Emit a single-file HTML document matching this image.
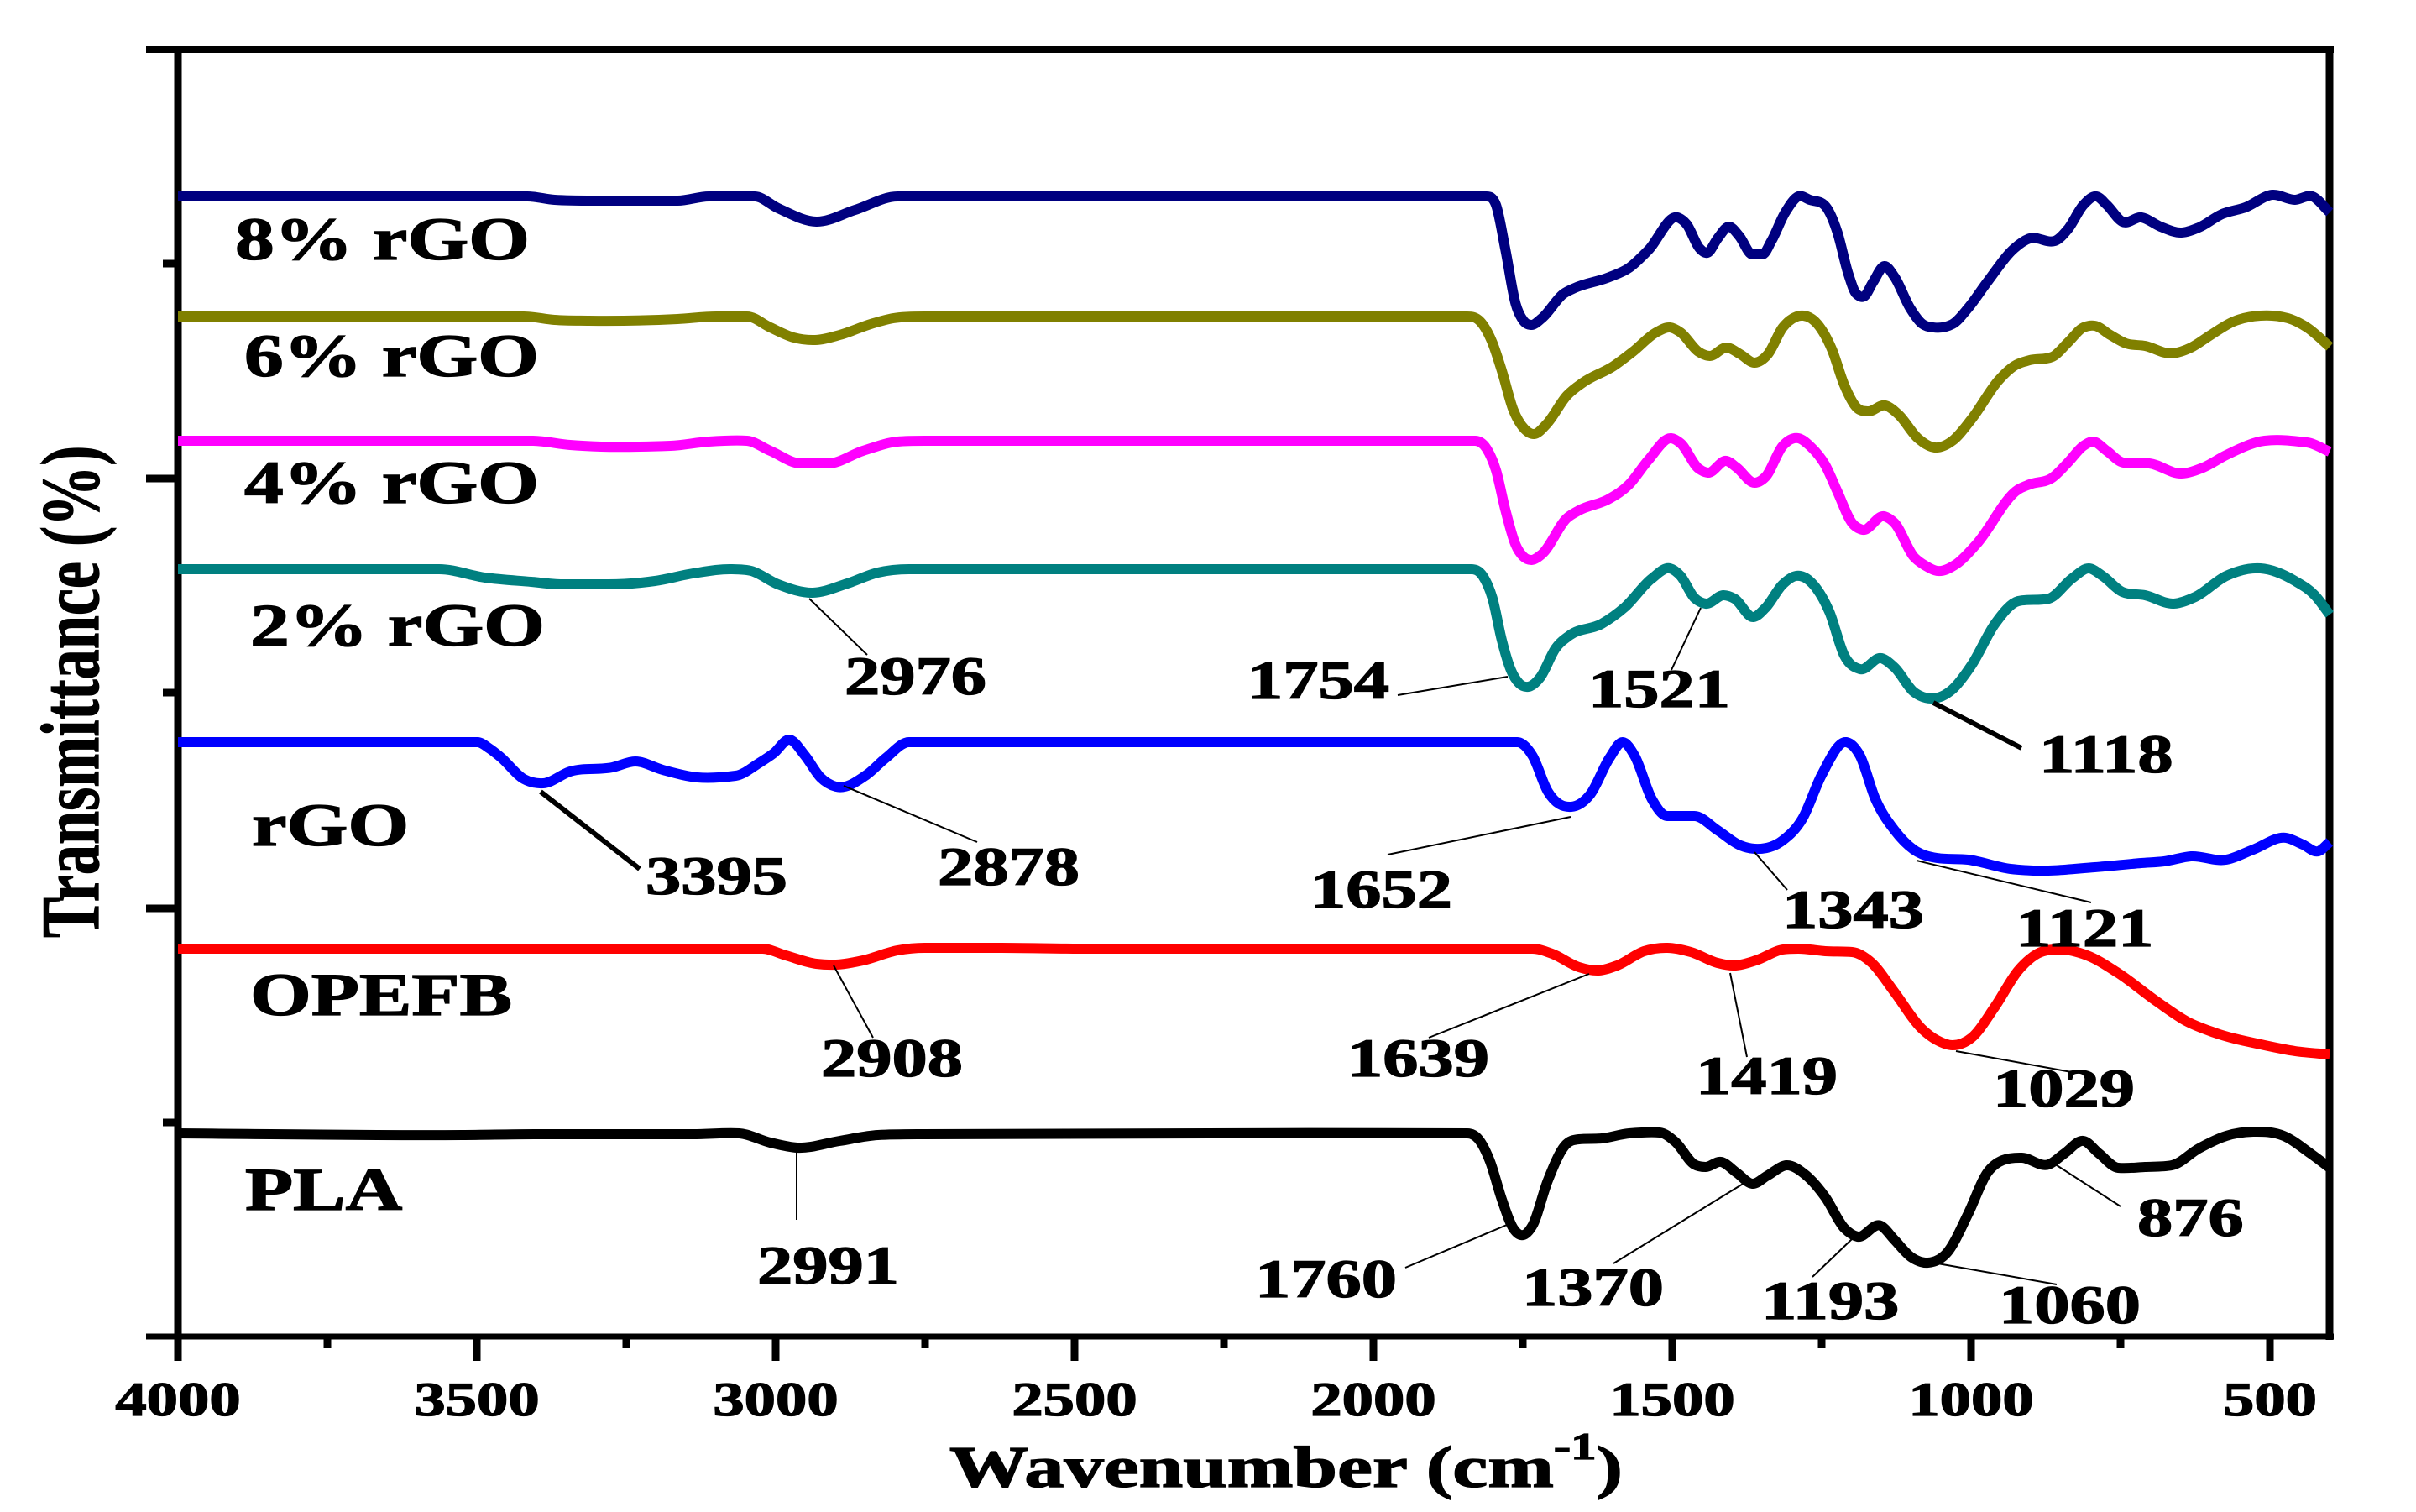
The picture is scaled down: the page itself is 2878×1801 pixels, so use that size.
<!DOCTYPE html>
<html lang="en">
<head>
<meta charset="utf-8">
<title>FTIR spectra of PLA, OPEFB, rGO and composites</title>
<style>
html,body{margin:0;padding:0;background:#fff;}
svg{display:block;}
text{font-family:"Liberation Serif",serif;font-weight:bold;fill:#000;stroke:#000;stroke-width:1.3;}
.sample{font-size:72px;}
.peak{font-size:65px;}
.leader{stroke:#000;stroke-width:2;fill:none;}
.leader-thick{stroke:#000;stroke-width:6;fill:none;}
</style>
</head>
<body>
<svg id="chart" xmlns="http://www.w3.org/2000/svg" width="2878" height="1801" viewBox="0 0 2878 1801">
  <rect x="0" y="0" width="2878" height="1801" fill="#ffffff"/>
  <g id="ticks"></g>
  <g id="frame" stroke="#000" fill="none">
    <line x1="174" y1="59" x2="2780" y2="59" stroke-width="8"/>
    <line x1="174" y1="1592" x2="2780" y2="1592" stroke-width="7"/>
    <line x1="212" y1="55" x2="212" y2="1596" stroke-width="9"/>
    <line x1="2775" y1="55" x2="2775" y2="1596" stroke-width="9"/>
  </g>
  <g id="series"></g>
  <g id="leaders">
    <line class="leader" x1="964" y1="713" x2="1033" y2="780"/>
    <line class="leader" x1="1665" y1="828" x2="1796" y2="806"/>
    <line class="leader" x1="2026" y1="724" x2="1991" y2="798"/>
    <line class="leader-thick" x1="2303" y1="837" x2="2408" y2="891"/>
    <line class="leader-thick" x1="644" y1="943" x2="762" y2="1035"/>
    <line class="leader" x1="1005" y1="936" x2="1164" y2="1003"/>
    <line class="leader" x1="993" y1="1150" x2="1040" y2="1236"/>
    <line class="leader" x1="949" y1="1371" x2="949" y2="1453"/>
    <line class="leader" x1="1871" y1="973" x2="1653" y2="1018"/>
    <line class="leader" x1="2090" y1="1015" x2="2129" y2="1060"/>
    <line class="leader" x1="2283" y1="1025" x2="2491" y2="1075"/>
    <line class="leader" x1="1893" y1="1160" x2="1702" y2="1236"/>
    <line class="leader" x1="2061" y1="1159" x2="2081" y2="1259"/>
    <line class="leader" x1="2330" y1="1252" x2="2473" y2="1278"/>
    <line class="leader" x1="1795" y1="1459" x2="1674" y2="1510"/>
    <line class="leader" x1="2078" y1="1409" x2="1922" y2="1505"/>
    <line class="leader" x1="2207" y1="1475" x2="2159" y2="1521"/>
    <line class="leader" x1="2308" y1="1505" x2="2450" y2="1530"/>
    <line class="leader" x1="2450" y1="1388" x2="2526" y2="1437"/>
  </g>
  <g id="sample-labels">
    <text class="sample" transform="translate(280,309) scale(1.3,1)">8% rGO</text>
    <text class="sample" transform="translate(291,448) scale(1.3,1)">6% rGO</text>
    <text class="sample" transform="translate(291,599) scale(1.3,1)">4% rGO</text>
    <text class="sample" transform="translate(298,769) scale(1.3,1)">2% rGO</text>
    <text class="sample" transform="translate(300,1007) scale(1.3,1)">rGO</text>
    <text class="sample" transform="translate(298,1209) scale(1.3,1)">OPEFB</text>
    <text class="sample" transform="translate(292,1441) scale(1.3,1)">PLA</text>
  </g>
  <g id="peak-labels">
    <text class="peak" transform="translate(1006,827) scale(1.3,1)">2976</text>
    <text class="peak" transform="translate(1486,832) scale(1.3,1)">1754</text>
    <text class="peak" transform="translate(1892,842) scale(1.3,1)">1521</text>
    <text class="peak" transform="translate(2429,920) scale(1.3,1)">1118</text>
    <text class="peak" transform="translate(769,1065) scale(1.3,1)">3395</text>
    <text class="peak" transform="translate(1117,1054) scale(1.3,1)">2878</text>
    <text class="peak" transform="translate(978,1282) scale(1.3,1)">2908</text>
    <text class="peak" transform="translate(902,1529) scale(1.3,1)">2991</text>
    <text class="peak" transform="translate(1561,1081) scale(1.3,1)">1652</text>
    <text class="peak" transform="translate(2123,1105) scale(1.3,1)">1343</text>
    <text class="peak" transform="translate(2401,1127) scale(1.3,1)">1121</text>
    <text class="peak" transform="translate(1605,1282) scale(1.3,1)">1639</text>
    <text class="peak" transform="translate(2020,1303) scale(1.3,1)">1419</text>
    <text class="peak" transform="translate(2374,1318) scale(1.3,1)">1029</text>
    <text class="peak" transform="translate(1495,1545) scale(1.3,1)">1760</text>
    <text class="peak" transform="translate(1813,1555) scale(1.3,1)">1370</text>
    <text class="peak" transform="translate(2098,1571) scale(1.3,1)">1193</text>
    <text class="peak" transform="translate(2381,1576) scale(1.3,1)">1060</text>
    <text class="peak" transform="translate(2546,1472) scale(1.3,1)">876</text>
  </g>
  <text transform="translate(1131,1771) scale(1.35,1)" font-size="70">Wavenumber (cm<tspan font-size="45" dy="-33">-1</tspan><tspan dy="33">)</tspan></text>
  <text transform="translate(117,1117) rotate(-90) scale(0.737,1)" font-size="98">Transmittance (%)</text>
  <g id="tick-labels"></g>
</svg>
<script>
// X ticks
const xMajorTicks = [4000, 3500, 3000, 2500, 2000, 1500, 1000, 500];
const xMinorTicks = [3750, 3250, 2750, 2250, 1750, 1250, 750];
const xTickLabels = ["4000", "3500", "3000", "2500", "2000", "1500", "1000", "500"];
// Y ticks (arbitrary transmittance units; axis has no printed values)
const yMajorTicks = [0, 510, 1022, 1533];
const yMinorTicks = [255, 767, 1278];

// 8% rGO
const wn8 = [4000,3415,3370,3305,3164,3112,3035,2996,2932,2867,2796,1811,1795,1779,1762,1749,1736,1718,1682,1663,1605,1572,1540,1491,1476,1454,1441,1424,1405,1388,1366,1349,1334,1311,1289,1270,1241,1224,1205,1192,1179,1164,1145,1128,1102,1083,1063,1031,1005,973,928,902,860,838,812,790,773,747,715,683,648,619,580,541,496,458,429,400];
const t8 = [1358,1358,1354,1353,1353,1358,1358,1344,1328,1342,1358,1358,1348,1294,1230,1210,1205,1213,1242,1249,1262,1273,1294,1333,1325,1296,1291,1308,1322,1311,1289,1289,1305,1339,1358,1354,1344,1316,1265,1242,1239,1256,1275,1262,1225,1207,1202,1206,1225,1256,1296,1308,1305,1319,1348,1358,1348,1328,1333,1322,1315,1321,1337,1345,1360,1354,1358,1339];
// 6% rGO
const wn6 = [4000,3421,3370,3312,3164,3099,3048,3009,2970,2934,2893,2841,2803,2751,1843,1821,1801,1785,1766,1747,1731,1710,1676,1650,1598,1566,1527,1504,1486,1456,1437,1409,1386,1362,1340,1315,1295,1280,1257,1233,1212,1192,1173,1143,1121,1089,1061,1031,999,954,928,902,864,838,812,793,767,741,709,664,632,599,561,516,470,438,400];
const t6 = [1215,1215,1211,1210,1212,1215,1215,1202,1190,1187,1193,1206,1213,1215,1215,1209,1184,1150,1104,1081,1075,1087,1121,1136,1156,1173,1196,1202,1196,1173,1168,1178,1170,1160,1170,1202,1214,1216,1206,1176,1133,1107,1102,1109,1098,1070,1059,1067,1093,1139,1156,1163,1167,1184,1202,1204,1193,1183,1180,1171,1178,1193,1209,1216,1213,1202,1179];
// 4% rGO
const wn4 = [4000,3408,3344,3292,3176,3112,3048,3009,2958,2912,2854,2796,2751,1830,1811,1795,1779,1762,1749,1735,1718,1676,1656,1605,1572,1540,1502,1486,1456,1440,1409,1392,1362,1344,1315,1289,1270,1244,1224,1199,1182,1145,1128,1096,1076,1057,1025,992,921,902,864,838,812,796,773,745,702,648,612,573,509,438,400];
const t4 = [1067,1067,1062,1060,1061,1066,1067,1055,1040,1040,1055,1066,1067,1067,1058,1032,984,943,929,925,932,975,984,998,1015,1044,1070,1064,1034,1029,1043,1035,1017,1024,1061,1070,1061,1038,1007,969,961,977,969,929,918,912,920,943,1009,1015,1023,1041,1061,1066,1055,1041,1040,1028,1035,1050,1067,1065,1054];
// 2% rGO
const wn2 = [4000,3563,3486,3409,3357,3280,3202,3138,3073,3041,2996,2938,2880,2829,2777,1837,1817,1801,1785,1770,1756,1741,1721,1695,1672,1618,1579,1534,1504,1486,1463,1444,1414,1396,1364,1344,1315,1293,1263,1237,1212,1186,1150,1128,1096,1067,1031,999,960,921,870,831,803,780,747,709,661,625,573,516,458,425,400];
const t2 = [914,914,904,899,896,896,900,909,914,912,896,886,897,910,914,914,906,880,829,794,778,774,785,820,835,849,869,903,915,906,880,873,883,879,857,868,896,906,895,863,811,795,808,797,768,760,771,800,849,876,879,903,915,906,887,883,873,881,906,915,900,883,860];
// rGO
const wnRgo = [4000,3499,3478,3460,3421,3389,3344,3273,3235,3189,3131,3067,3028,3003,2977,2951,2925,2899,2848,2816,2777,1759,1734,1708,1669,1637,1605,1583,1563,1534,1508,1463,1424,1386,1362,1315,1282,1250,1209,1186,1160,1128,1096,1057,1005,934,896,793,715,677,632,573,528,473,445,419,400];
const tRgo = [708,708,700,690,664,659,673,678,685,675,666,668,683,695,711,692,666,655,669,689,708,708,692,649,631,646,689,708,692,640,620,620,603,585,581,591,617,669,708,692,640,603,580,570,568,557,555,559,564,566,572,568,580,594,586,578,589];
// OPEFB
const wnOpefb = [4000,3022,2983,2932,2899,2854,2796,2751,2622,2493,1734,1701,1656,1624,1592,1547,1508,1469,1424,1398,1360,1315,1289,1244,1199,1166,1128,1083,1057,1031,999,960,921,889,851,806,754,689,638,593,509,458,400];
const tOpefb = [462,462,454,444,443,448,460,463,463,462,462,456,440,436,442,459,463,458,445,442,448,461,462,459,458,445,410,367,353,347,356,393,436,456,461,454,433,399,375,362,347,340,336];
// PLA
const wnPla = [4000,3525,3396,3138,3061,3009,2964,2893,2829,2751,1843,1824,1805,1785,1766,1749,1734,1708,1680,1656,1618,1572,1521,1495,1463,1444,1418,1392,1366,1340,1308,1276,1244,1212,1190,1151,1128,1099,1072,1040,1005,973,947,915,870,844,812,786,754,709,664,619,573,528,477,432,400];
const tPla = [242,240,241,241,242,231,225,233,240,241,242,235,209,163,129,121,132,186,227,235,236,242,243,232,205,202,208,195,182,192,204,192,166,129,119,132,115,94,88,100,146,195,210,213,205,218,233,218,201,202,204,224,239,244,239,218,201];

const SVGNS = "http://www.w3.org/2000/svg";
const xScale = w => 212 + (4000 - w) * 0.712;
const yScale = v => 1592 - v;

function smoothPath(pts) {
  const n = pts.length, dx = [], m = [], t = [];
  for (let i = 0; i < n - 1; i++) {
    dx[i] = pts[i + 1][0] - pts[i][0];
    m[i] = (pts[i + 1][1] - pts[i][1]) / dx[i];
  }
  t[0] = m[0];
  t[n - 1] = m[n - 2];
  for (let i = 1; i < n - 1; i++) {
    const s = (m[i - 1] * dx[i] + m[i] * dx[i - 1]) / (dx[i] + dx[i - 1]);
    const lim = 3 * Math.min(Math.abs(m[i - 1]), Math.abs(m[i]));
    t[i] = Math.abs(s) > lim ? Math.sign(s) * lim : s;
  }
  let d = "M" + pts[0][0].toFixed(1) + " " + pts[0][1].toFixed(1);
  for (let i = 0; i < n - 1; i++) {
    const h = dx[i] / 3;
    d += "C" + (pts[i][0] + h).toFixed(1) + " " + (pts[i][1] + t[i] * h).toFixed(1) + " " +
      (pts[i + 1][0] - h).toFixed(1) + " " + (pts[i + 1][1] - t[i + 1] * h).toFixed(1) + " " +
      pts[i + 1][0].toFixed(1) + " " + pts[i + 1][1].toFixed(1);
  }
  return d;
}

function drawSeries(wn, vals, color, name) {
  const pts = wn.map((w, i) => [xScale(w), yScale(vals[i])]);
  const path = document.createElementNS(SVGNS, "path");
  path.setAttribute("d", smoothPath(pts));
  path.setAttribute("fill", "none");
  path.setAttribute("stroke", color);
  path.setAttribute("stroke-width", "12");
  path.setAttribute("stroke-linejoin", "round");
  
  
  document.getElementById("series").appendChild(path);
}

function tickLine(x1, y1, x2, y2, name) {
  const l = document.createElementNS(SVGNS, "line");
  l.setAttribute("x1", x1);
  l.setAttribute("y1", y1);
  l.setAttribute("x2", x2);
  l.setAttribute("y2", y2);
  l.setAttribute("stroke", "#000");
  l.setAttribute("stroke-width", "9");
  
  
  document.getElementById("ticks").appendChild(l);
}

xMajorTicks.forEach((w) => tickLine(xScale(w), 1592, xScale(w), 1621, "x-major-tick"));
xMinorTicks.forEach((w) => tickLine(xScale(w), 1592, xScale(w), 1606, "x-minor-tick"));
yMajorTicks.forEach((v) => { if (v > 0 && v < 1533) tickLine(174, yScale(v), 212, yScale(v), "y-major-tick"); });
yMinorTicks.forEach((v) => tickLine(194, yScale(v), 212, yScale(v), "y-minor-tick"));

xMajorTicks.forEach((w, i) => {
  const t = document.createElementNS(SVGNS, "text");
  t.setAttribute("transform", "translate(" + xScale(w) + ",1686) scale(1.31,1)");
  t.setAttribute("text-anchor", "middle");
  t.setAttribute("font-size", "57");
  t.textContent = xTickLabels[i];
  
  
  document.getElementById("tick-labels").appendChild(t);
});

drawSeries(wnPla, tPla, "#000000", "series-pla");
drawSeries(wnOpefb, tOpefb, "#ff0000", "series-opefb");
drawSeries(wnRgo, tRgo, "#0000ff", "series-rgo");
drawSeries(wn2, t2, "#008080", "series-2-percent-rgo");
drawSeries(wn4, t4, "#ff00ff", "series-4-percent-rgo");
drawSeries(wn6, t6, "#808000", "series-6-percent-rgo");
drawSeries(wn8, t8, "#000080", "series-8-percent-rgo");
</script>
</body>
</html>
